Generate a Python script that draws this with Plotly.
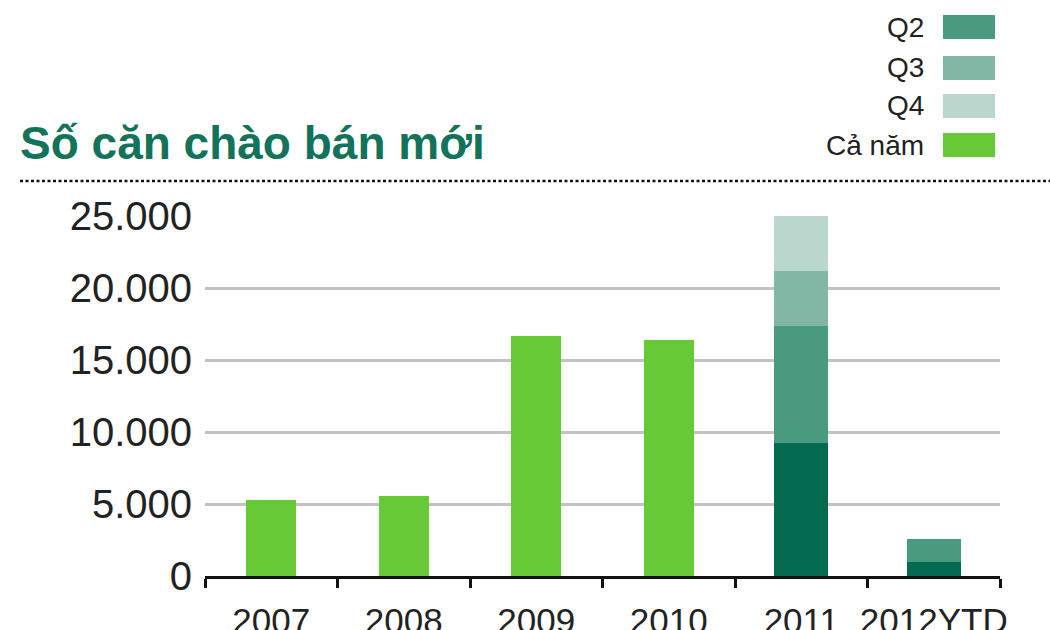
import plotly.graph_objects as go

# dữ liệu
nam = ["2007", "2008", "2009", "2010", "2011", "2012YTD"]
ca_nam = [5300, 5550, 16700, 16400, None, None]
q1 = [None, None, None, None, 9250, 950]
q2 = [None, None, None, None, 8140, 1650]
q3 = [None, None, None, None, 3760, None]
q4 = [None, None, None, None, 3850, None]
y_ticks = [0, 5000, 10000, 15000, 20000, 25000]

legend_names = ["Q2", "Q3", "Q4", "Cả năm"]
legend_colors = ["#4a9a80", "#82b7a6", "#b9d7cd", "#66c935"]

# khung vẽ (pixel) -> toạ độ paper
L, R, T, B = 205, 1000, 216, 576
def px(x):
    return (x - L) / (R - L)
def py(y):
    return (B - y) / (B - T)

fig = go.Figure()
fig.add_trace(go.Bar(x=nam, y=ca_nam, name="Cả năm", marker_color="#66c935", width=0.38))
fig.add_trace(go.Bar(x=nam, y=q1, name="Q1", marker_color="#036b4f", width=0.41))
fig.add_trace(go.Bar(x=nam, y=q2, name="Q2", marker_color="#4a9a80", width=0.41))
fig.add_trace(go.Bar(x=nam, y=q3, name="Q3", marker_color="#82b7a6", width=0.41))
fig.add_trace(go.Bar(x=nam, y=q4, name="Q4", marker_color="#b9d7cd", width=0.41))

fig.update_traces(marker_line_width=0)

shapes = [dict(type="line", xref="paper", yref="paper",
               x0=px(20), x1=px(1050), y0=py(181), y1=py(181),
               line=dict(color="#111111", width=2.5, dash="3px,2.5px"))]
annotations = [dict(text="<b>Số căn chào bán mới</b>", xref="paper", yref="paper",
                    x=px(18), y=py(143), xanchor="left", yanchor="middle", showarrow=False,
                    font=dict(family="Liberation Sans, Arial", size=46, color="#13735a"))]

# chú thích tự vẽ: chữ bên trái, ô màu bên phải
legend_y = [27, 68, 106, 145]
for name, color, yc in zip(legend_names, legend_colors, legend_y):
    shapes.append(dict(type="rect", xref="paper", yref="paper",
                       x0=px(943), x1=px(995), y0=py(yc - 12), y1=py(yc + 12),
                       fillcolor=color, line_width=0))
    annotations.append(dict(text=name, xref="paper", yref="paper",
                            x=px(926), y=py(yc), xanchor="right", yanchor="middle",
                            showarrow=False,
                            font=dict(family="Liberation Sans, Arial", size=28, color="#222222")))

fig.update_layout(width=1050, height=630,
                  template="none",
                  barmode="stack",
                  showlegend=False,
                  separators=",.",
                  plot_bgcolor="white", paper_bgcolor="white",
                  margin=dict(l=L, r=1050 - R, t=T, b=630 - B, pad=0),
                  shapes=shapes, annotations=annotations,
                  font=dict(family="Liberation Sans, Arial", color="#222222"))

fig.update_xaxes(type="category",
                 showline=True, linecolor="#111111", linewidth=2.5,
                 ticks="outside", tickson="boundaries", ticklen=9, tickwidth=2.5,
                 tickcolor="#111111", showgrid=False, automargin=False,
                 tickangle=0, tickfont=dict(size=35), ticklabelstandoff=12)
fig.update_yaxes(range=[0, 25000], tickvals=y_ticks, tickformat=",d",
                 showgrid=True, gridcolor="#c3c3c3", gridwidth=2.5,
                 zeroline=False, showline=False, ticks="", automargin=False,
                 tickfont=dict(size=40), ticklabelstandoff=12)

fig.write_html("out.html", config={"displayModeBar": False},
               post_script="document.body.style.margin='0';")
